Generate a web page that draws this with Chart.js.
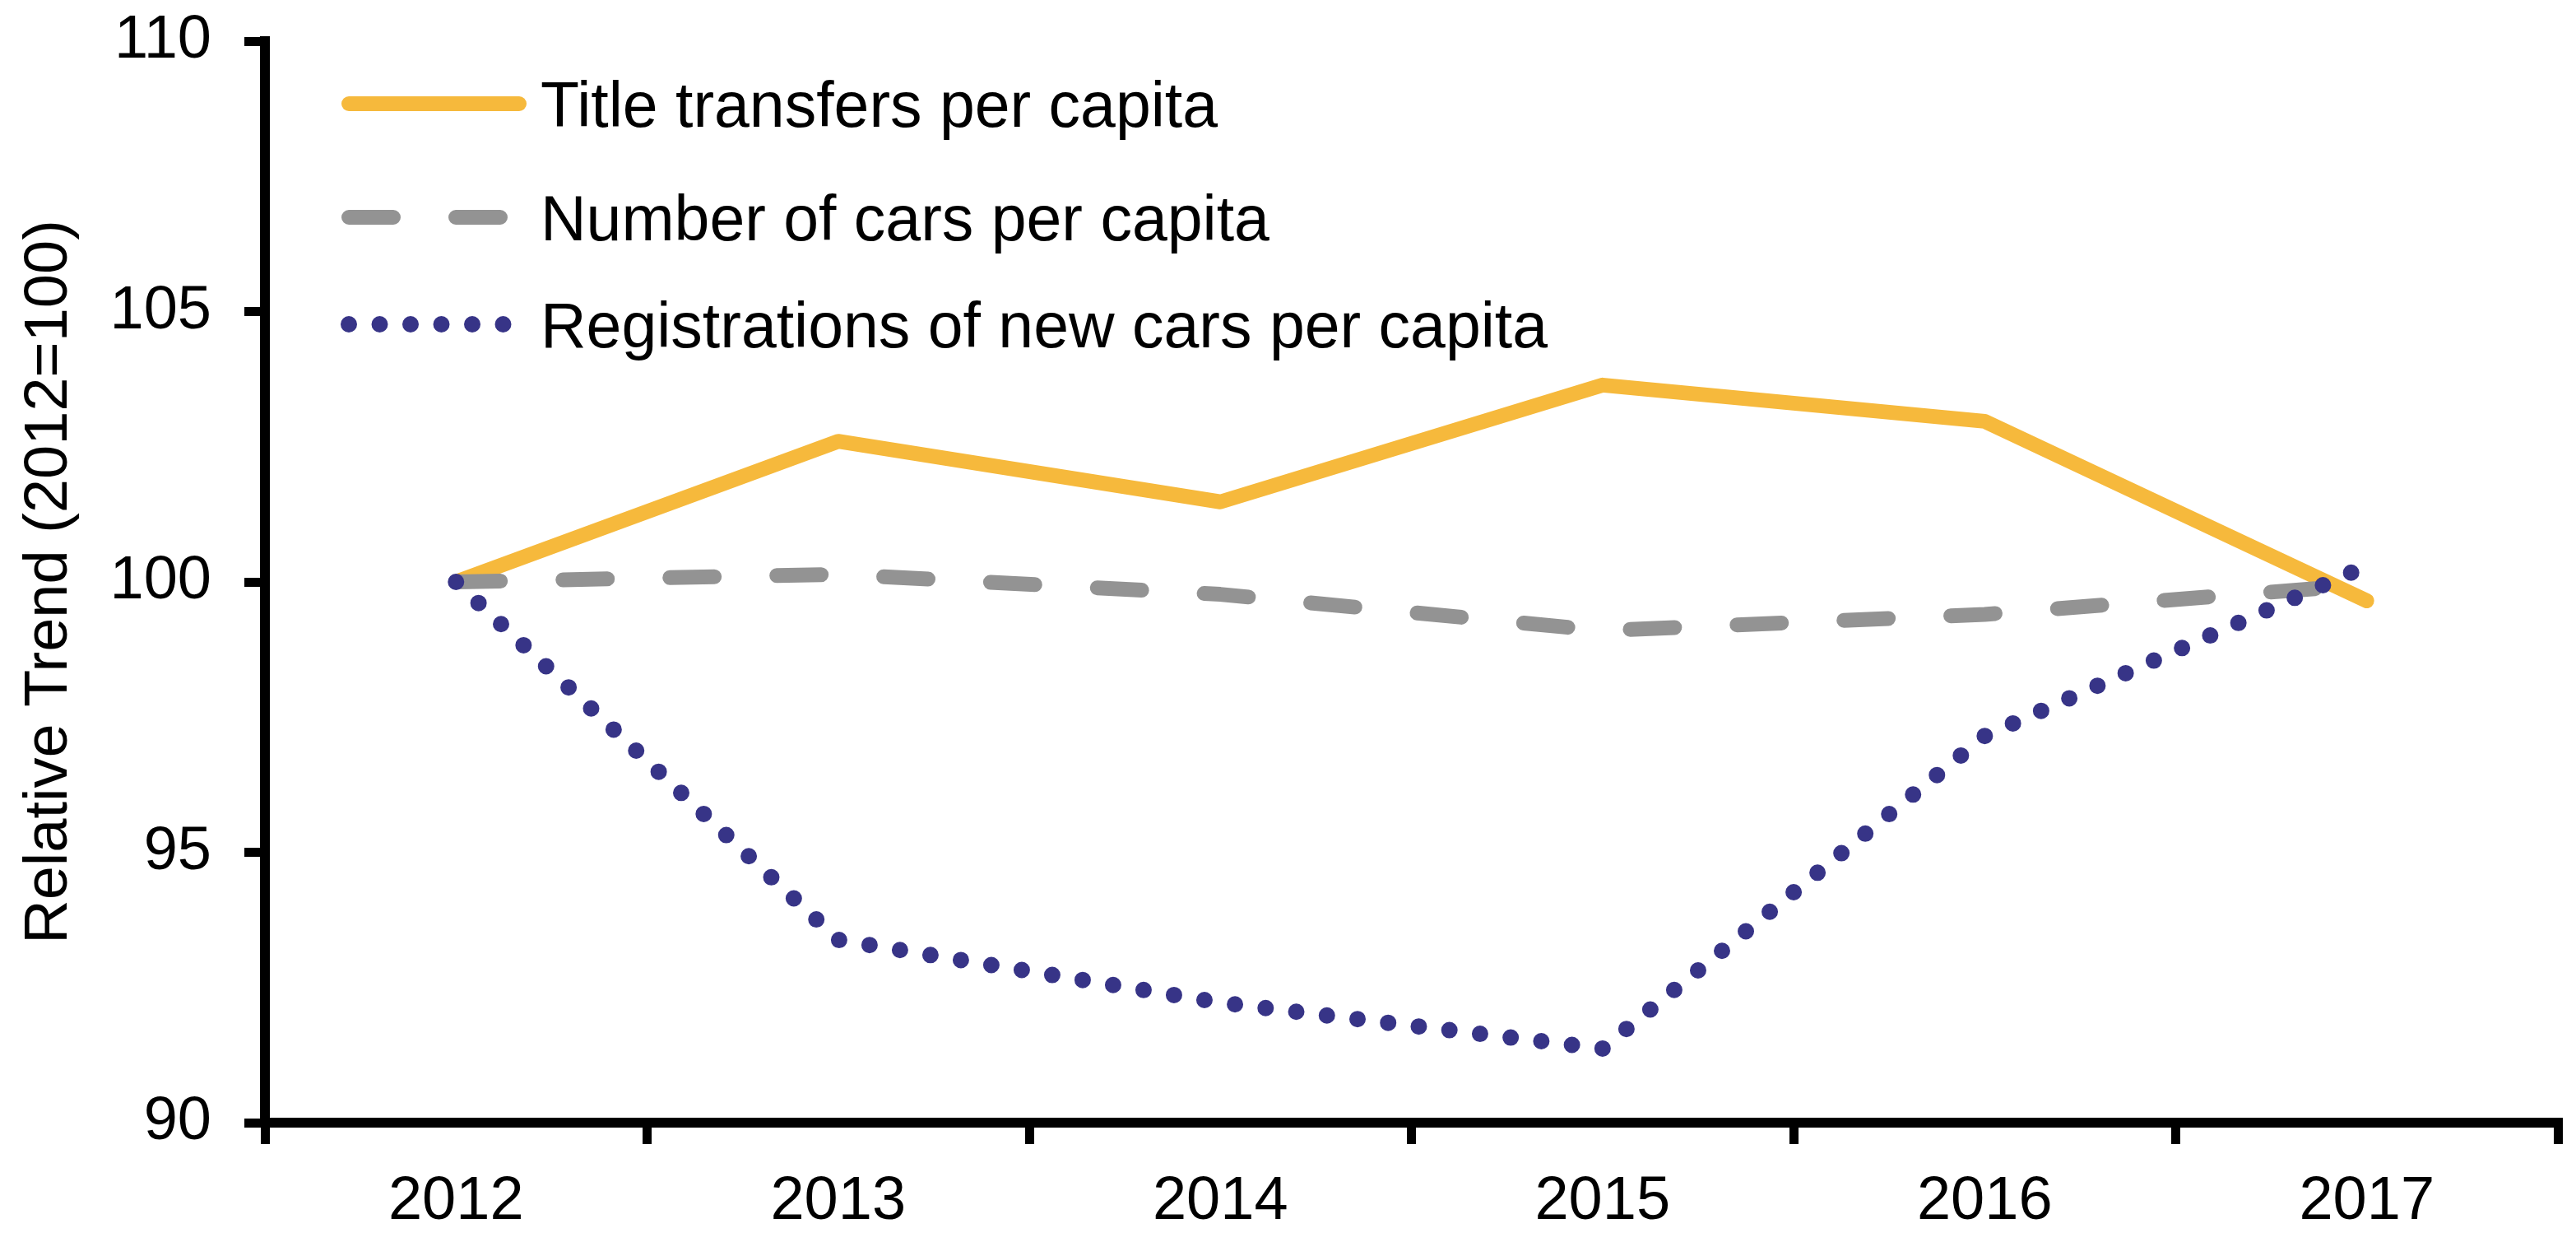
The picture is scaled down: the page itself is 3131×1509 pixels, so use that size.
<!DOCTYPE html>
<html>
<head>
<meta charset="utf-8">
<style>
  html, body { margin: 0; padding: 0; background: #ffffff; }
  #wrap { width: 3131px; height: 1509px; position: relative; }
</style>
<script src="https://cdn.jsdelivr.net/npm/chart.js@4.4.1/dist/chart.umd.min.js"></script>
</head>
<body>
<div id="wrap"><canvas id="c"></canvas></div>
<script>
// ---- data ----
const categories = ['2012', '2013', '2014', '2015', '2016', '2017'];
const titleTransfers = [100, 102.6, 101.48, 103.64, 102.97, 99.65];
const carsPerCapita = [100, 100.14, 99.77, 99.1, 99.4, 99.95];
const newRegistrations = [100, 93.38, 92.22, 91.37, 97.15, 100.3];
const seriesNames = [
  'Title transfers per capita',
  'Number of cars per capita',
  'Registrations of new cars per capita'
];
const yTicks = [90, 95, 100, 105, 110];
const yTitle = 'Relative Trend (2012=100)';

// ---- styling ----
const FAMILY = '"Liberation Sans", Arial, Helvetica, sans-serif';
const FONT = { family: FAMILY, size: 74 };

const legendPlugin = {
  id: 'lineLegend',
  afterDatasetsDraw(chart) {
    const { ctx, chartArea } = chart;
    const x0 = chartArea.left + 102;
    const x1 = chartArea.left + 309;
    const tx = chartArea.left + 335;
    const rows = [chartArea.top + 76, chartArea.top + 214, chartArea.top + 344];
    chart.data.datasets.forEach((ds, i) => {
      ctx.save();
      ctx.strokeStyle = ds.borderColor;
      ctx.lineWidth = ds.borderWidth;
      ctx.lineCap = 'round';
      ctx.setLineDash(ds.borderDash || []);
      ctx.beginPath();
      ctx.moveTo(x0, rows[i]);
      ctx.lineTo(x1, rows[i]);
      ctx.stroke();
      ctx.setLineDash([]);
      ctx.fillStyle = '#000000';
      ctx.font = '77px ' + FAMILY;
      ctx.textAlign = 'left';
      ctx.textBaseline = 'alphabetic';
      ctx.fillText(ds.label, tx, rows[i] + 28);
      ctx.restore();
    });
  }
};

new Chart(document.getElementById('c'), {
  type: 'line',
  data: {
    labels: categories,
    datasets: [
      {
        label: seriesNames[0], data: titleTransfers,
        borderColor: '#F6B93C', borderWidth: 18,
        borderCapStyle: 'round', borderJoinStyle: 'round',
        pointRadius: 0, tension: 0, fill: false, order: 2
      },
      {
        label: seriesNames[1], data: carsPerCapita,
        borderColor: '#939393', borderWidth: 18, borderDash: [54, 76],
        borderCapStyle: 'round', borderJoinStyle: 'round',
        pointRadius: 0, tension: 0, fill: false, order: 1
      },
      {
        label: seriesNames[2], data: newRegistrations,
        borderColor: '#373487', borderWidth: 20, borderDash: [0, 37.5],
        borderCapStyle: 'round', borderJoinStyle: 'round',
        pointRadius: 0, tension: 0, fill: false, order: 0
      }
    ]
  },
  options: {
    responsive: true,
    maintainAspectRatio: false,
    devicePixelRatio: 1,
    animation: false,
    layout: { padding: { left: 0, top: 50, right: 22, bottom: 0 } },
    plugins: { legend: { display: false }, tooltip: { enabled: false } },
    scales: {
      x: {
        offset: true,
        grid: {
          offset: true, drawOnChartArea: false, drawTicks: true,
          tickLength: 26, tickWidth: 11, tickColor: '#000000',
          color: '#000000', lineWidth: 11
        },
        border: { display: true, color: '#000000', width: 12 },
        ticks: { font: FONT, color: '#000000', padding: 26, maxRotation: 0, autoSkip: false },
        afterFit(s) { s.height = 145; s.paddingLeft = 0; s.paddingRight = 0; }
      },
      y: {
        min: 90, max: 110,
        afterBuildTicks(s) { s.ticks = yTicks.map(v => ({ value: v })); },
        grid: {
          drawOnChartArea: false, drawTicks: true,
          tickLength: 25, tickWidth: 11, tickColor: '#000000',
          color: '#000000', lineWidth: 11
        },
        border: { display: true, color: '#000000', width: 12 },
        ticks: { font: FONT, color: '#000000', padding: 40 },
        title: { display: true, text: yTitle, font: FONT, color: '#000000', padding: { top: 16, bottom: 0 } },
        afterFit(s) { s.width = 322; s.paddingTop = 0; s.paddingBottom = 0; }
      }
    }
  },
  plugins: [legendPlugin]
});
</script>
</body>
</html>
